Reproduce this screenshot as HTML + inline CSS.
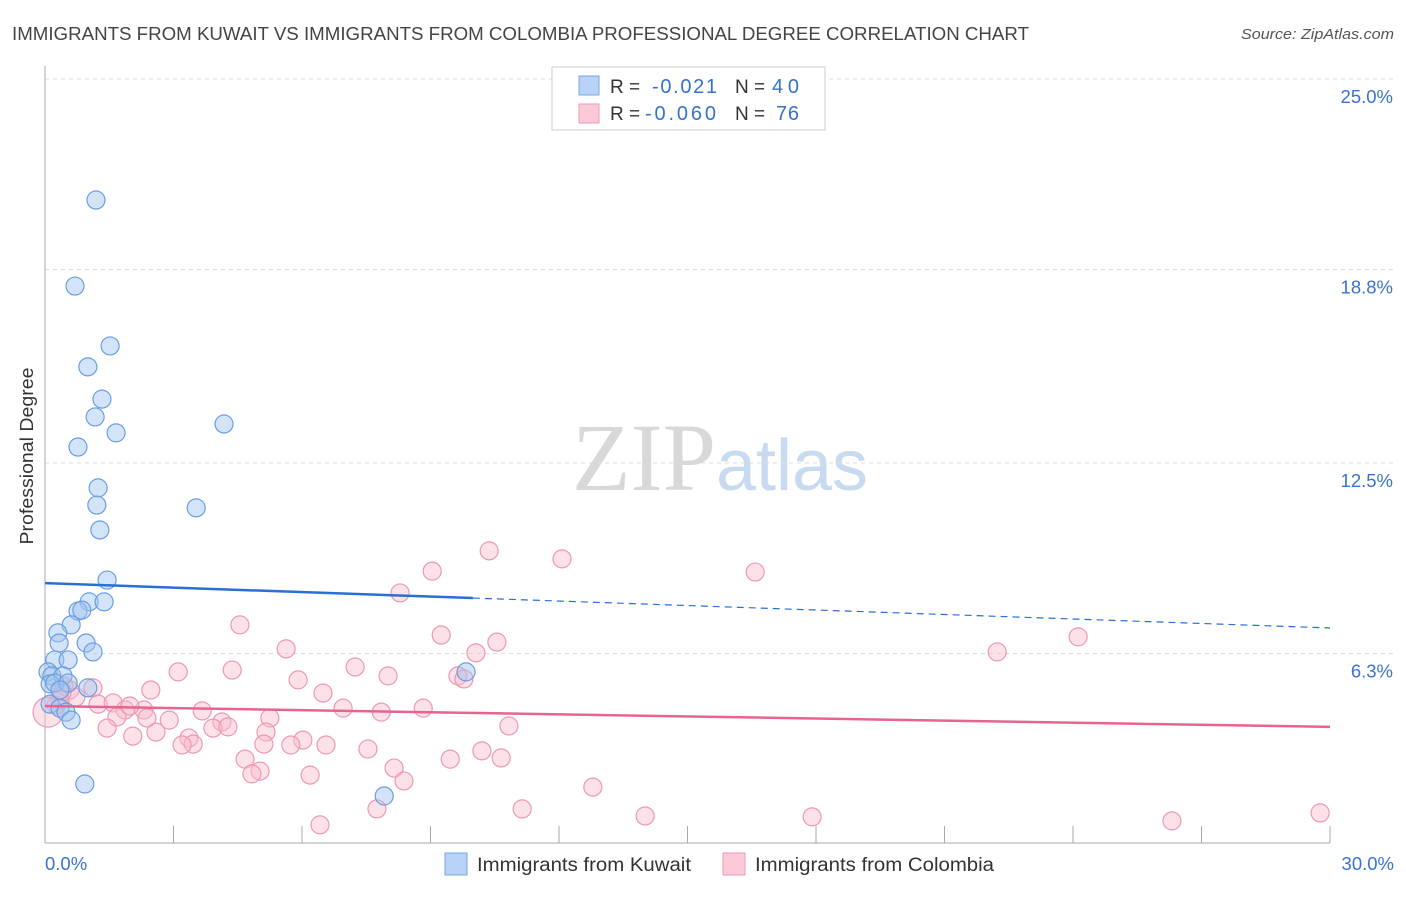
<!DOCTYPE html>
<html><head><meta charset="utf-8"><style>
body{margin:0;background:#fff;font-family:"Liberation Sans",sans-serif}
svg text{font-family:"Liberation Sans",sans-serif}
</style></head><body>
<svg id="chart" width="1406" height="892" viewBox="0 0 1406 892" xmlns="http://www.w3.org/2000/svg">
<text x="12" y="40" font-size="18" fill="#444" textLength="1017" lengthAdjust="spacingAndGlyphs">IMMIGRANTS FROM KUWAIT VS IMMIGRANTS FROM COLOMBIA PROFESSIONAL DEGREE CORRELATION CHART</text>
<text x="1241" y="39" font-size="15" fill="#555" font-style="italic" textLength="153" lengthAdjust="spacingAndGlyphs">Source: ZipAtlas.com</text>
<text x="720" y="490" font-size="96" text-anchor="middle"><tspan fill="#d8d8d8" font-family="Liberation Serif">ZIP</tspan><tspan fill="#c8daf0" font-size="72">atlas</tspan></text>
<g id="grid"></g>
<g id="axes"></g>
<g id="marks"></g>
<text transform="translate(33,456) rotate(-90)" font-size="18" fill="#333" text-anchor="middle" textLength="177" lengthAdjust="spacingAndGlyphs">Professional Degree</text>
<g>
<rect x="552" y="67" width="273" height="63" fill="#fff" stroke="#ccc"/>
<rect x="579" y="76" width="20" height="19" fill="#b8d3f5" stroke="#7aa7e0"/>
<rect x="579" y="104" width="20" height="19" fill="#fbc9d8" stroke="#ee9db6"/>
<text x="610" y="93" font-size="19" fill="#333">R =</text>
<text x="652" y="93" font-size="20" fill="#3571d1" textLength="65">-0.021</text>
<text x="735" y="93" font-size="19" fill="#333">N =</text>
<text x="772" y="93" font-size="20" fill="#3571d1" textLength="27">40</text>
<text x="610" y="120" font-size="19" fill="#333">R =</text>
<text x="645" y="120" font-size="20" fill="#3571d1" textLength="71">-0.060</text>
<text x="735" y="120" font-size="19" fill="#333">N =</text>
<text x="776" y="120" font-size="20" fill="#3571d1" textLength="23">76</text>
</g>
<g>
<rect x="445" y="853" width="22" height="22" fill="#b8d3f5" stroke="#7aa7e0"/>
<text x="477" y="871" font-size="19" fill="#333" textLength="214" lengthAdjust="spacingAndGlyphs">Immigrants from Kuwait</text>
<rect x="723" y="853" width="22" height="22" fill="#fbc9d8" stroke="#ee9db6"/>
<text x="755" y="871" font-size="19" fill="#333" textLength="239" lengthAdjust="spacingAndGlyphs">Immigrants from Colombia</text>
</g>
</svg>
<script>
const kuwaitX=[1.19,0.70,1.52,1.00,1.33,1.17,1.66,4.18,0.77,1.24,1.21,3.53,1.28,1.45,1.03,1.38,0.77,0.86,0.61,0.30,0.33,0.96,1.12,0.23,0.54,0.07,0.16,0.42,0.12,0.23,0.54,1.00,0.12,0.35,0.49,0.61,0.93,7.92,9.83,0.35];
const kuwaitY=[21.06,18.26,16.31,15.63,14.58,14.00,13.48,13.77,13.02,11.69,11.13,11.04,10.32,8.69,7.98,7.98,7.68,7.71,7.23,6.97,6.64,6.64,6.35,6.09,6.09,5.70,5.57,5.57,5.31,5.34,5.34,5.18,4.65,4.52,4.39,4.13,2.05,1.66,5.70,5.11];
const colombiaX=[10.37,12.07,9.04,16.58,8.29,4.55,9.25,10.55,24.12,22.23,5.63,10.06,7.24,3.11,4.37,8.01,5.91,9.64,9.78,6.49,2.47,1.12,0.44,0.58,0.72,0.35,1.24,1.59,1.87,2.31,3.67,6.96,7.85,8.83,2.90,1.68,4.13,5.25,3.92,4.27,1.45,2.05,2.59,3.36,3.46,3.20,5.16,6.02,5.11,5.74,6.56,10.83,7.54,10.20,9.46,10.65,4.67,5.02,4.83,6.19,8.15,8.38,12.79,11.14,7.75,14.01,17.91,26.31,29.77,6.42,0.26,0.40,1.98,2.38,0.07];
const colombiaY=[9.64,9.38,8.98,8.95,8.27,7.23,6.90,6.67,6.84,6.35,6.45,6.32,5.86,5.70,5.76,5.57,5.44,5.57,5.47,5.01,5.11,5.18,5.24,5.11,4.88,4.79,4.65,4.69,4.46,4.46,4.43,4.52,4.39,4.52,4.13,4.23,4.07,4.20,3.87,3.91,3.87,3.61,3.74,3.55,3.35,3.32,3.74,3.48,3.35,3.32,3.32,3.94,3.19,3.13,2.86,2.90,2.86,2.47,2.38,2.34,2.57,2.15,1.95,1.24,1.24,1.01,0.98,0.85,1.11,0.72,4.62,5.05,4.59,4.20,4.39];
const kuwaitTrend=[8.59,7.13];
const kuwaitSolidEnd=9.99;
const colombiaTrend=[4.59,3.91];
const yTicks=[6.3,12.5,18.8,25.0];
const yTickLabels=["6.3%","12.5%","18.8%","25.0%"];
const xTickVals=[0,3,6,9,12,15,18,21,24,27,30];

const NS="http://www.w3.org/2000/svg";
const X0=45,X1=1330,XMAX=30,YB=847,YT=79,YMAX=25;
const sx=v=>X0+(X1-X0)*v/XMAX;
const sy=v=>YB-(YB-YT)*v/YMAX;
function mk(tag,attrs,parent){const e=document.createElementNS(NS,tag);for(const k in attrs)e.setAttribute(k,attrs[k]);parent.appendChild(e);return e;}
const grid=document.getElementById('grid'),axes=document.getElementById('axes'),marks=document.getElementById('marks');
yTicks.forEach((t,i)=>{
  const y=sy(t);
  const l=mk('line',{x1:X0,x2:1394,y1:y,y2:y,stroke:'#ddd','stroke-dasharray':'4,4'},grid);
  
  
  const tx=mk('text',{x:1393,y:y+24,'font-size':18.5,fill:'#3a72cf','text-anchor':'end'},axes);
  tx.textContent=yTickLabels[i];
  
  
});
const ax=mk('line',{x1:X0,x2:X0,y1:66,y2:843,stroke:'#aaa'},axes);


const bx=mk('line',{x1:X0,x2:X1,y1:843,y2:843,stroke:'#aaa'},axes);


xTickVals.forEach(v=>{
  const t=mk('line',{x1:sx(v),x2:sx(v),y1:826,y2:843,stroke:'#aaa'},axes);
  
  
});
const xl0=mk('text',{x:45,y:870,'font-size':18.5,fill:'#3a72cf'},axes);xl0.textContent='0.0%';


const xl1=mk('text',{x:1394,y:870,'font-size':18.5,fill:'#3a72cf','text-anchor':'end'},axes);xl1.textContent='30.0%';



colombiaX.forEach((x,i)=>{
  const c=mk('circle',{cx:sx(x),cy:sy(colombiaY[i]),r:i===colombiaX.length-1?15:9,fill:'rgba(248,188,206,0.45)',stroke:'#ee98b3','stroke-width':1.2},marks);
  
  
});
kuwaitX.forEach((x,i)=>{
  const c=mk('circle',{cx:sx(x),cy:sy(kuwaitY[i]),r:9,fill:'rgba(160,196,240,0.45)',stroke:'#6b9ee0','stroke-width':1.2},marks);
  
  
});
const kAt=v=>kuwaitTrend[0]+(kuwaitTrend[1]-kuwaitTrend[0])*v/XMAX;
const k1=mk('line',{x1:sx(0),y1:sy(kAt(0)),x2:sx(kuwaitSolidEnd),y2:sy(kAt(kuwaitSolidEnd)),stroke:'#2a6fd6','stroke-width':2.5},marks);


const k2=mk('line',{x1:sx(kuwaitSolidEnd),y1:sy(kAt(kuwaitSolidEnd)),x2:sx(30),y2:sy(kAt(30)),stroke:'#2a6fd6','stroke-width':1.2,'stroke-dasharray':'7,5'},marks);


const p1=mk('line',{x1:sx(0),y1:sy(colombiaTrend[0]),x2:sx(30),y2:sy(colombiaTrend[1]),stroke:'#e8638f','stroke-width':2.5},marks);


</script>
</body></html>
